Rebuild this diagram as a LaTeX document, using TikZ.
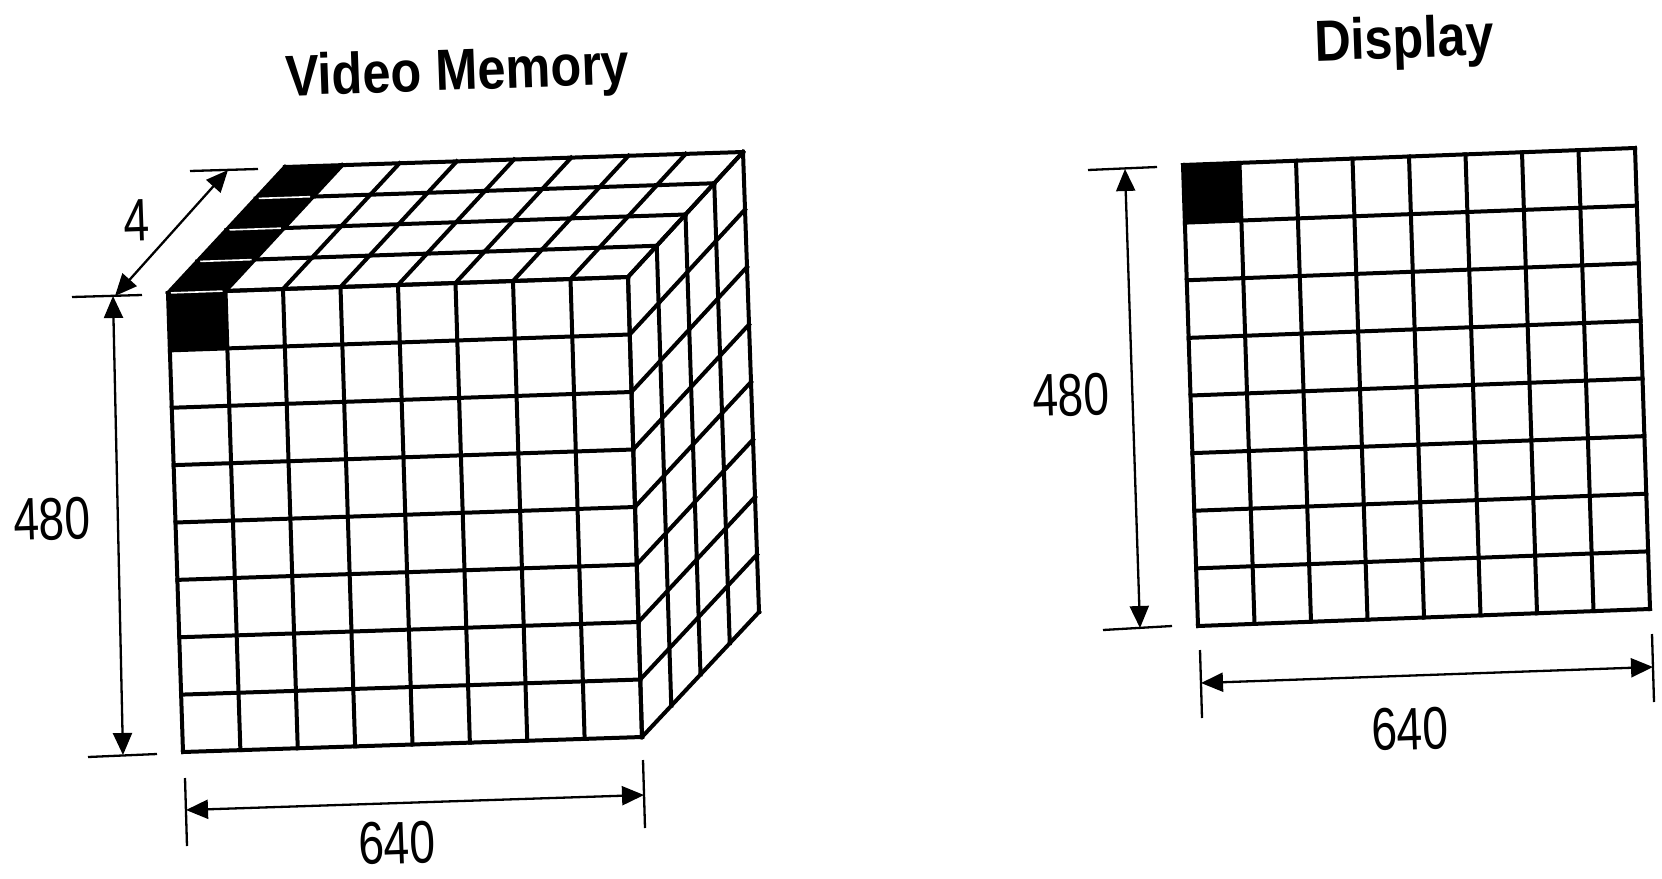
\documentclass[tikz,border=0pt]{standalone}
\usepackage{fontspec}
\setmainfont{Liberation Sans}
\newfontfamily\dimfont[FakeStretch=0.77]{Liberation Sans}
\newfontfamily\titlefont[FakeStretch=0.87]{Liberation Sans}
\usetikzlibrary{calc,arrows.meta}
\begin{document}
\begin{tikzpicture}[x=1pt,y=-1pt,
  gridline/.style={line width=4pt,line cap=rect},
  dimline/.style={line width=2.3pt,{Triangle[length=22pt,width=19pt]}-{Triangle[length=22pt,width=19pt]}},
  tickline/.style={line width=2.3pt},
  whitesep/.style={white,line width=1.6pt,shorten <=3pt,shorten >=3pt},
  dimlabel/.style={font=\dimfont\fontsize{60}{60}\selectfont,inner sep=0pt,rotate=2},
  titlelabel/.style={font=\titlefont\bfseries\fontsize{58}{60}\selectfont,inner sep=0pt,rotate=2,anchor=base}]
\useasboundingbox (0,0) rectangle (1662,878);
% ---------- cube corners ----------
\coordinate (FTL) at (168,293);
\coordinate (FTR) at (628,277);
\coordinate (FBL) at (183,752);
\coordinate (FBR) at (642,737);
\coordinate (BTL) at (285,167);
\coordinate (BTR) at (743,152);
\coordinate (BBR) at (759,612);
\coordinate (FL1) at ($(FTL)!1/8!(FBL)$);
\coordinate (FR1) at ($(FTR)!1/8!(FBR)$);
\coordinate (FT1) at ($(FTL)!1/8!(FTR)$);
\coordinate (F11) at ($(FL1)!1/8!(FR1)$);
\coordinate (BT1) at ($(BTL)!1/8!(BTR)$);
% black cells
\fill (FTL) -- (FT1) -- (F11) -- (FL1) -- cycle;
\fill (FTL) -- (FT1) -- (BT1) -- (BTL) -- cycle;
% front face
\foreach \i in {0,...,8} {
  \draw[gridline] ($(FTL)!\i/8!(FTR)$) -- ($(FBL)!\i/8!(FBR)$);
  \draw[gridline] ($(FTL)!\i/8!(FBL)$) -- ($(FTR)!\i/8!(FBR)$);
}
% top face
\foreach \k in {0,...,4}
  \draw[gridline] ($(FTL)!\k/4!(BTL)$) -- ($(FTR)!\k/4!(BTR)$);
\foreach \i in {0,...,8}
  \draw[gridline] ($(FTL)!\i/8!(FTR)$) -- ($(BTL)!\i/8!(BTR)$);
% right face
\foreach \k in {0,...,4}
  \draw[gridline] ($(FTR)!\k/4!(BTR)$) -- ($(FBR)!\k/4!(BBR)$);
\foreach \j in {0,...,8}
  \draw[gridline] ($(FTR)!\j/8!(FBR)$) -- ($(BTR)!\j/8!(BBR)$);
% white separations in black column
\foreach \k in {0,...,3}
  \draw[whitesep] ($(FTL)!\k/4!(BTL)$) -- ($(FT1)!\k/4!(BT1)$);
% ---------- cube dimensions ----------
\coordinate (t1a) at (72,297);   \coordinate (t1b) at (142,295);
\coordinate (t2a) at (88,757);   \coordinate (t2b) at (157,754);
\coordinate (t3a) at (190,171);  \coordinate (t3b) at (258,169);
\coordinate (t4a) at (185,778);  \coordinate (t4b) at (187,846);
\coordinate (t5a) at (643,760);  \coordinate (t5b) at (645,828);
\draw[tickline] (t1a) -- (t1b);
\draw[tickline] (t2a) -- (t2b);
\draw[tickline] (t3a) -- (t3b);
\draw[tickline] (t4a) -- (t4b);
\draw[tickline] (t5a) -- (t5b);
\coordinate (v1) at (113,296); \coordinate (v2) at (123,755);
\coordinate (d1) at (115,296); \coordinate (d2) at (228,170);
\coordinate (h1) at (186,810); \coordinate (h2) at (644,795);
\draw[dimline] (v1) -- (v2);
\draw[dimline] (d1) -- (d2);
\draw[dimline] (h1) -- (h2);
\node[dimlabel] (lab480a) at (52,519) {480};
\node[dimlabel] (lab4) at (137,220) {4};
\node[dimlabel] (lab640a) at (397,843) {640};
\node[titlelabel] (vmtitle) at (458,90) {Video Memory};
% ---------- display ----------
\coordinate (DTL) at (1183,165);
\coordinate (DTR) at (1635,148);
\coordinate (DBL) at (1198,626);
\coordinate (DBR) at (1650,609);
\coordinate (DL1) at ($(DTL)!1/8!(DBL)$);
\coordinate (DR1) at ($(DTR)!1/8!(DBR)$);
\coordinate (DT1) at ($(DTL)!1/8!(DTR)$);
\coordinate (D11) at ($(DL1)!1/8!(DR1)$);
\fill (DTL) -- (DT1) -- (D11) -- (DL1) -- cycle;
\foreach \i in {0,...,8} {
  \draw[gridline] ($(DTL)!\i/8!(DTR)$) -- ($(DBL)!\i/8!(DBR)$);
  \draw[gridline] ($(DTL)!\i/8!(DBL)$) -- ($(DTR)!\i/8!(DBR)$);
}
\coordinate (s1a) at (1088,170);  \coordinate (s1b) at (1157,167);
\coordinate (s2a) at (1103,630);  \coordinate (s2b) at (1172,626);
\coordinate (s3a) at (1200,650);  \coordinate (s3b) at (1202,718);
\coordinate (s4a) at (1652,634);  \coordinate (s4b) at (1654,702);
\draw[tickline] (s1a) -- (s1b);
\draw[tickline] (s2a) -- (s2b);
\draw[tickline] (s3a) -- (s3b);
\draw[tickline] (s4a) -- (s4b);
\coordinate (w1) at (1125,169); \coordinate (w2) at (1140,628);
\coordinate (g1) at (1201,683); \coordinate (g2) at (1653,667);
\draw[dimline] (w1) -- (w2);
\draw[dimline] (g1) -- (g2);
\node[dimlabel] (lab480b) at (1071,395) {480};
\node[dimlabel] (lab640b) at (1410,729) {640};
\node[titlelabel] (dtitle) at (1405,58) {Display};
\end{tikzpicture}
\end{document}
